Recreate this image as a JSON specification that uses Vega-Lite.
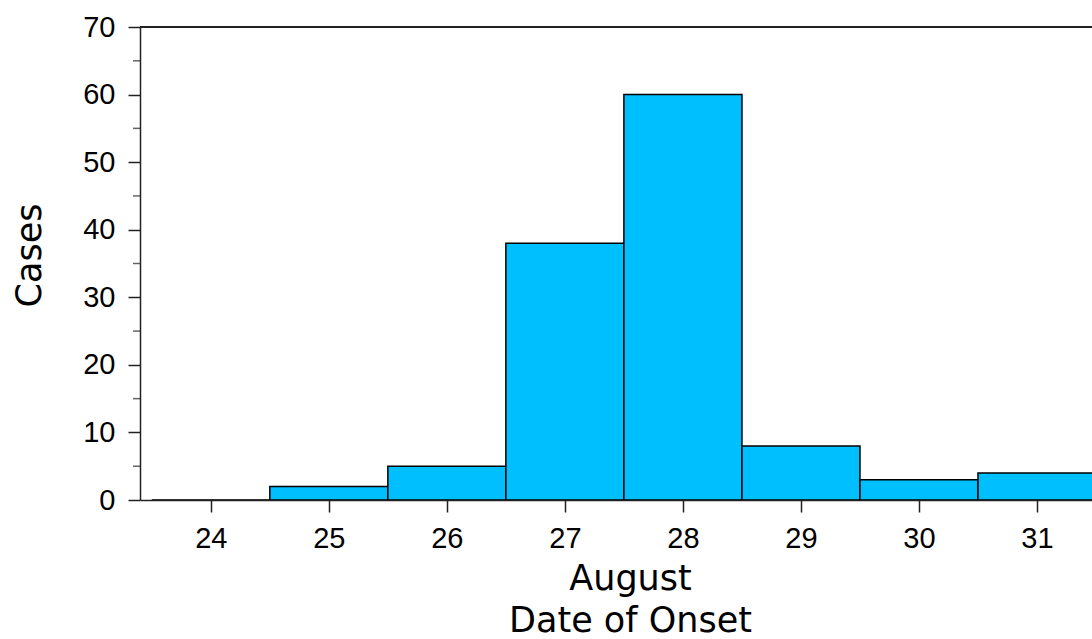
{
  "$schema": "https://vega.github.io/schema/vega-lite/v6.json",
  "autosize": {"type": "none"},
  "width": 952,
  "height": 473,
  "padding": {"left": 140, "top": 27, "right": 0, "bottom": 139},
  "background": "white",
  "config": {"view": {"stroke": null}},
  "data": {
    "values": [
      {"day": 24, "start": 23.5, "end": 24.5, "cases": 0},
      {"day": 25, "start": 24.5, "end": 25.5, "cases": 2},
      {"day": 26, "start": 25.5, "end": 26.5, "cases": 5},
      {"day": 27, "start": 26.5, "end": 27.5, "cases": 38},
      {"day": 28, "start": 27.5, "end": 28.5, "cases": 60},
      {"day": 29, "start": 28.5, "end": 29.5, "cases": 8},
      {"day": 30, "start": 29.5, "end": 30.5, "cases": 3},
      {"day": 31, "start": 30.5, "end": 31.5, "cases": 4}
    ]
  },
  "layer": [
    {
      "mark": {"type": "bar", "fill": "#00BFFF", "stroke": "#000000", "strokeWidth": 1.5, "clip": true},
      "encoding": {
        "x": {
          "field": "start",
          "type": "quantitative",
          "scale": {"domain": [23.4, 31.466], "nice": false, "zero": false},
          "axis": {
            "values": [24, 25, 26, 27, 28, 29, 30, 31],
            "format": "d",
            "grid": false,
            "domainColor": "#222222",
            "domainWidth": 1.5,
            "tickColor": "#222222",
            "tickWidth": 1.5,
            "tickSize": 12,
            "labelFont": "Liberation Sans",
            "labelFontSize": 29,
            "labelColor": "#000000",
            "labelBaseline": "alphabetic",
            "labelPadding": 35,
            "labelFlush": false,
            "labelOverlap": false,
            "title": ["August", "Date of Onset"],
            "titleFont": "DejaVu Sans",
            "titleFontSize": 35,
            "titleFontWeight": "normal",
            "titleColor": "#000000",
            "titleBaseline": "alphabetic",
            "titleLineHeight": 42,
            "titleX": 490,
            "titleY": 89,
            "titleAlign": "center"
          }
        },
        "x2": {"field": "end"},
        "y": {
          "field": "cases",
          "type": "quantitative",
          "scale": {"domain": [0, 70], "nice": false},
          "axis": {
            "values": [0, 10, 20, 30, 40, 50, 60, 70],
            "format": "d",
            "grid": false,
            "domainColor": "#222222",
            "domainWidth": 1.5,
            "tickColor": "#222222",
            "tickWidth": 1.5,
            "tickSize": 12,
            "labelFont": "Liberation Sans",
            "labelFontSize": 29,
            "labelColor": "#000000",
            "labelPadding": 13,
            "labelFlush": false,
            "labelOverlap": false,
            "title": "Cases",
            "titleFont": "DejaVu Sans",
            "titleFontSize": 35,
            "titleFontWeight": "normal",
            "titleColor": "#000000",
            "titleBaseline": "alphabetic",
            "titleAngle": -90,
            "titleX": -100,
            "titleY": 228,
            "titleAlign": "center"
          }
        },
        "y2": {"datum": 0}
      }
    },
    {
      "mark": {"type": "tick", "orient": "horizontal", "color": "#222222", "thickness": 1.5, "size": 7, "xOffset": -3.5},
      "data": {"values": [{"m": 5}, {"m": 15}, {"m": 25}, {"m": 35}, {"m": 45}, {"m": 55}, {"m": 65}]},
      "encoding": {
        "y": {"field": "m", "type": "quantitative"},
        "x": {"datum": 23.4, "type": "quantitative"}
      }
    },
    {
      "mark": {"type": "rule", "color": "#222222", "strokeWidth": 1.5},
      "encoding": {"y": {"datum": 70, "type": "quantitative"}}
    }
  ]
}
